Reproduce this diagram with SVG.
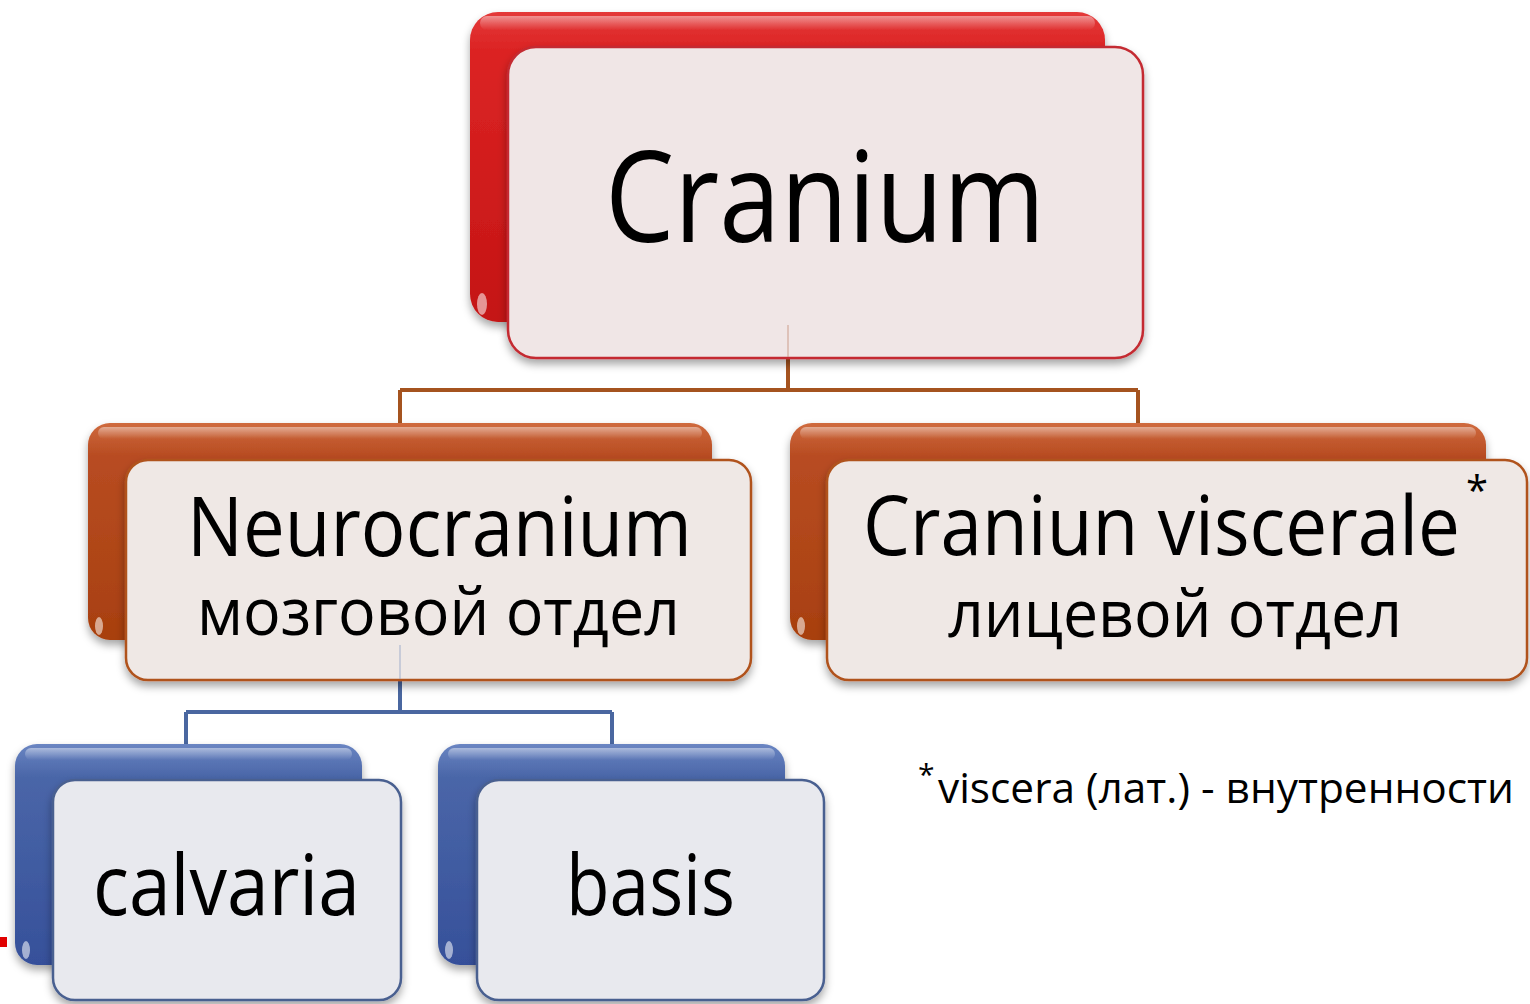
<svg xmlns="http://www.w3.org/2000/svg" width="1530" height="1004" viewBox="0 0 1530 1004">
<defs>
<linearGradient id="gRed" x1="0" y1="0" x2="0" y2="1">
<stop offset="0" stop-color="#e43a3a"/><stop offset="0.12" stop-color="#dc2424"/><stop offset="1" stop-color="#c41414"/>
</linearGradient>
<linearGradient id="gBrown" x1="0" y1="0" x2="0" y2="1">
<stop offset="0" stop-color="#cf6a3e"/><stop offset="0.15" stop-color="#b84c22"/><stop offset="1" stop-color="#a8400f"/>
</linearGradient>
<linearGradient id="gBlue" x1="0" y1="0" x2="0" y2="1">
<stop offset="0" stop-color="#6a85c2"/><stop offset="0.15" stop-color="#4a66a8"/><stop offset="1" stop-color="#36509a"/>
</linearGradient>
<linearGradient id="gHi" x1="0" y1="0" x2="0" y2="1">
<stop offset="0" stop-color="#fff" stop-opacity="0.45"/><stop offset="1" stop-color="#fff" stop-opacity="0"/>
</linearGradient>
<filter id="sh" x="-10%" y="-10%" width="120%" height="130%">
<feDropShadow dx="0" dy="5" stdDeviation="4" flood-color="#000" flood-opacity="0.35"/>
</filter>
</defs>
<style>
.txt{font-family:"Open Sans","DejaVu Sans",sans-serif;fill:#000}
.fr{fill:#f0e6e6;stroke:#c42a30;stroke-width:2.5}
.fb{fill:#efe8e5;stroke:#b0521e;stroke-width:2.5}
.fl{fill:#e8e9ee;stroke:#4a6090;stroke-width:2.5}
.cb{fill:none;stroke:#a5531f;stroke-width:4}
.cl{fill:none;stroke:#4a67a0;stroke-width:4}
.hi{fill:url(#gHi)}
.gl{fill:#fff;opacity:0.55}
.fa{fill:none;stroke-width:1.5;opacity:0.5}
</style>

<g id="connectors">
<path class="cb" d="M788 358 V390 M400 390 H1138 M400 390 V425 M1138 390 V425"/>
<path class="cl" d="M400 680 V712 M186 712 H612 M186 712 V746 M612 712 V746"/>
</g>

<g id="node-cranium">
<rect x="470" y="12" width="635" height="310" rx="28" fill="url(#gRed)" filter="url(#sh)"/>
<rect x="480" y="16" width="615" height="14" rx="7" class="hi"/>
<ellipse cx="482" cy="304" rx="5" ry="11" class="gl"/>
<rect x="508" y="47" width="635" height="311" rx="28" class="fr" filter="url(#sh)"/>
<line x1="788" y1="325" x2="788" y2="357" class="fa" stroke="#c08a70"/>
<text class="txt" x="605" y="242" font-size="126" textLength="440" lengthAdjust="spacingAndGlyphs">Cranium</text>
</g>

<g id="node-neurocranium">
<rect x="88" y="423" width="624" height="217" rx="22" fill="url(#gBrown)" filter="url(#sh)"/>
<rect x="98" y="427" width="604" height="12" rx="6" class="hi"/>
<ellipse cx="99" cy="626" rx="4" ry="9" class="gl"/>
<rect x="126" y="460" width="625" height="220" rx="22" class="fb" filter="url(#sh)"/>
<line x1="400" y1="645" x2="400" y2="679" class="fa" stroke="#8a9cc4"/>
<text class="txt" x="187" y="556" font-size="82" textLength="505" lengthAdjust="spacingAndGlyphs">Neurocranium</text>
<text class="txt" x="197" y="635" font-size="66" textLength="483" lengthAdjust="spacingAndGlyphs">мозговой отдел</text>
</g>

<g id="node-visceral">
<rect x="790" y="423" width="696" height="217" rx="22" fill="url(#gBrown)" filter="url(#sh)"/>
<rect x="800" y="427" width="676" height="12" rx="6" class="hi"/>
<ellipse cx="801" cy="626" rx="4" ry="9" class="gl"/>
<rect x="827" y="460" width="700" height="220" rx="22" class="fb" filter="url(#sh)"/>
<text class="txt" x="863" y="555" font-size="82" textLength="597" lengthAdjust="spacingAndGlyphs">Craniun viscerale</text>
<text class="txt" x="1466" y="505" font-size="40">*</text>
<text class="txt" x="948" y="637" font-size="66" textLength="454" lengthAdjust="spacingAndGlyphs">лицевой отдел</text>
</g>

<g id="node-calvaria">
<rect x="15" y="744" width="347" height="221" rx="22" fill="url(#gBlue)" filter="url(#sh)"/>
<rect x="25" y="748" width="327" height="12" rx="6" class="hi"/>
<ellipse cx="26" cy="950" rx="4" ry="9" class="gl"/>
<rect x="53" y="780" width="348" height="220" rx="22" class="fl" filter="url(#sh)"/>
<text class="txt" x="93" y="915" font-size="84" textLength="267" lengthAdjust="spacingAndGlyphs">calvaria</text>
</g>

<g id="node-basis">
<rect x="438" y="744" width="347" height="221" rx="22" fill="url(#gBlue)" filter="url(#sh)"/>
<rect x="448" y="748" width="327" height="12" rx="6" class="hi"/>
<ellipse cx="449" cy="950" rx="4" ry="9" class="gl"/>
<rect x="477" y="780" width="347" height="220" rx="22" class="fl" filter="url(#sh)"/>
<text class="txt" x="566" y="915" font-size="84" textLength="169" lengthAdjust="spacingAndGlyphs">basis</text>
</g>

<g id="footnote">
<text class="txt" x="918" y="785" font-size="30">*</text>
<text class="txt" x="938" y="803" font-size="42" textLength="576" lengthAdjust="spacingAndGlyphs">viscera (лат.) - внутренности</text>
</g>

<rect x="0" y="937" width="7" height="10" fill="#e00000"/>
</svg>
